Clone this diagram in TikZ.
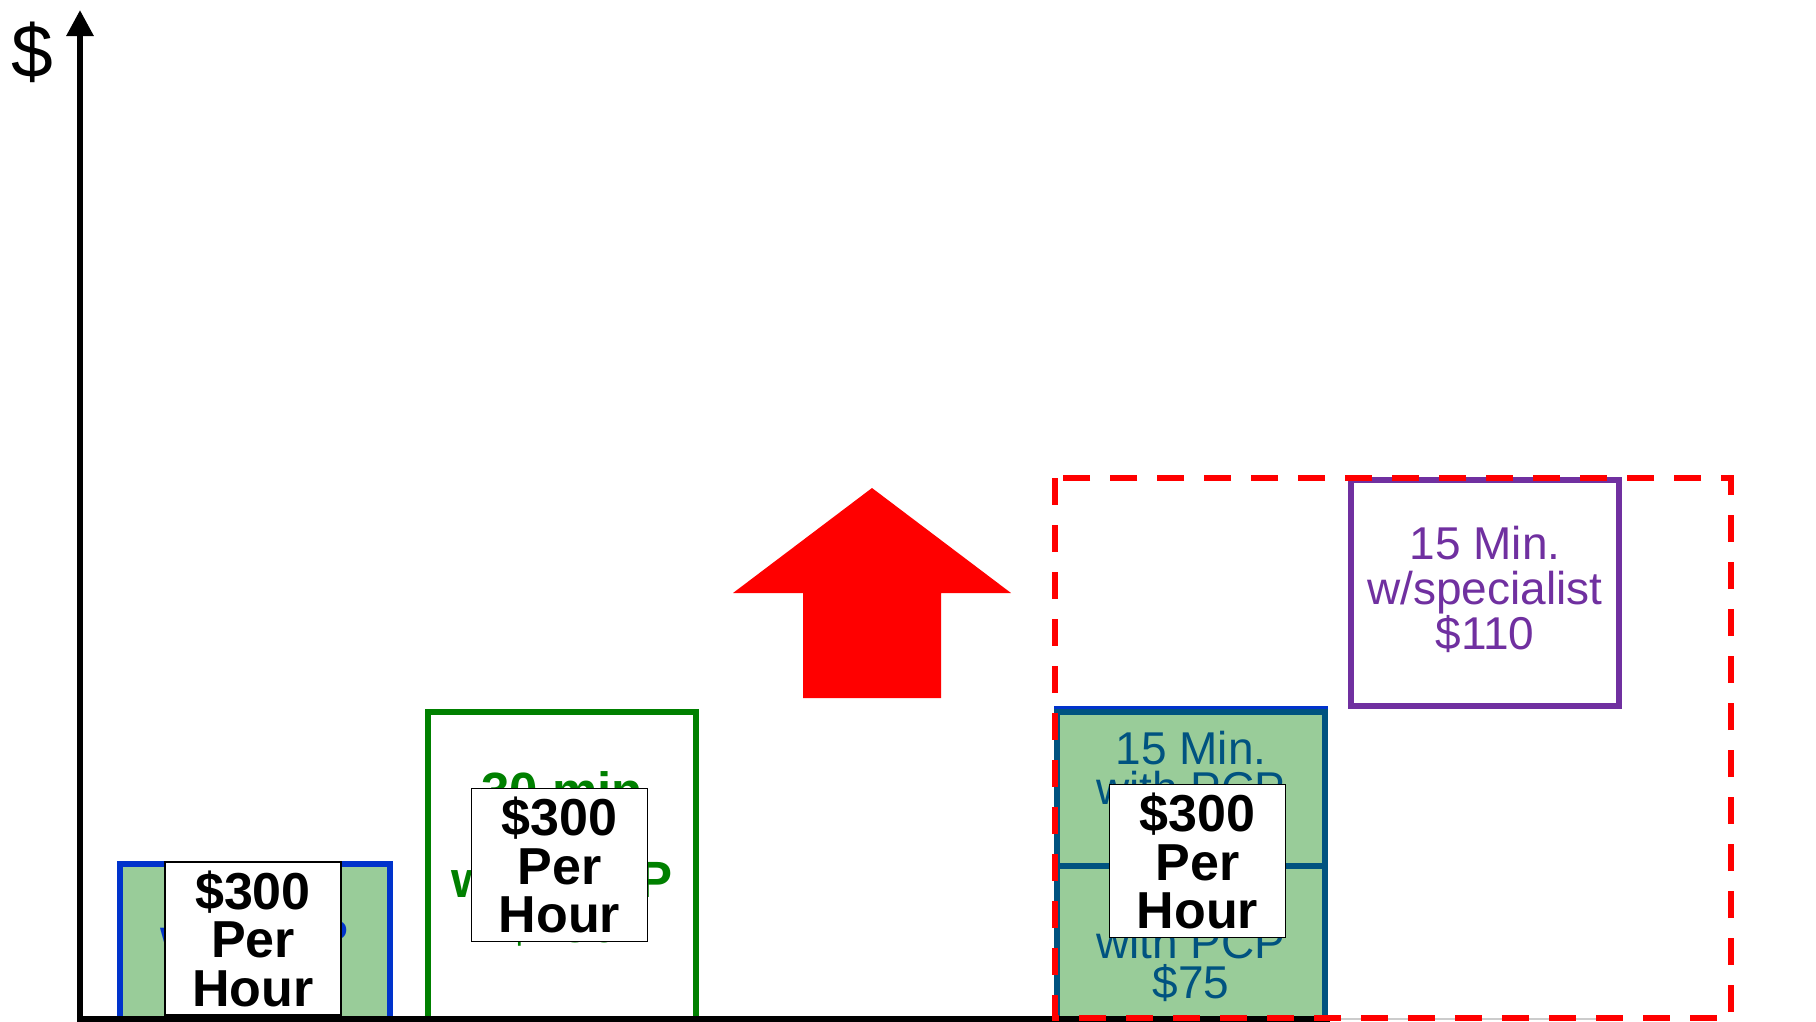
\documentclass[tikz,border=0pt]{standalone}
\usepackage{fontspec}
\setmainfont{Liberation Sans}
\usetikzlibrary{arrows.meta}
\definecolor{pcpfill}{RGB}{153,204,153}
\definecolor{pcpblue}{RGB}{0,51,204}
\definecolor{pcpgreen}{RGB}{0,128,0}
\definecolor{pcpteal}{RGB}{0,83,128}
\definecolor{specpurple}{RGB}{112,48,160}
\tikzset{>={Triangle[length=26pt,width=26pt]}}
\tikzset{
  axisline/.style={line width=6pt},
  visitbox/.style={line width=6pt},
  visittext/.style={align=center, inner sep=0pt, font=\fontsize{46}{40}\selectfont},
  ratebox/.style={draw, line width=1.5pt, fill=white, inner sep=0pt, align=center,
    minimum width=176pt, minimum height=153pt, font=\bfseries\fontsize{52}{48.5}\selectfont}
}

\begin{document}
\begin{tikzpicture}[x=1pt,y=-1pt]
        \useasboundingbox (0,0) rectangle (1816,1021);
        % 15 min visit
        \draw[visitbox, draw=pcpblue, fill=pcpfill] (120,864) rectangle (390,1019);
        \node[visittext, text=pcpblue] (visit-a) at (255,937) {15 Min.\\with PCP\\\$75};
        \node[ratebox] (rate-a) at (253,938.5) {\$300\\Per\\Hour};
        % 30 min visit
        \draw[visitbox, draw=pcpgreen] (428,712) rectangle (696,1019);
        \node[align=center, inner sep=0pt, text=pcpgreen, font=\bfseries\fontsize{51}{45}\selectfont]
            (visit-b) at (562,859) {30 min\\[44pt]with PCP\\\$150};
        \node[ratebox] (rate-b) at (559.5,865) {\$300\\Per\\Hour};
        % up arrow
        \fill[red] (872,488) -- (1011,593) -- (941,593) -- (941,698)
            -- (803,698) -- (803,593) -- (733,593) -- cycle;
        % specialist
        \draw[visitbox, draw=specpurple, fill=white] (1351,480) rectangle (1619,706);
        \node[visittext, text=specpurple, font=\fontsize{46}{45}\selectfont]
            (spec) at (1485,589) {15 Min.\\w/specialist\\\$110};
        % two 15 min visits
        \draw[visitbox, draw=pcpblue] (1057,709) rectangle (1325,1017);
        \foreach \top/\bot/\n in {712/866/c, 866/1019/d}
        {
            \draw[visitbox, draw=pcpteal, fill=pcpfill] (1057,\top) rectangle (1325,\bot);
            \node[visittext, text=pcpteal] (visit-\n) at (1191,{(\top+\bot)/2+0.5}) {15 Min.\\with PCP\\\$75};
        }
        \node[ratebox] (rate-c) at (1197.5,861) {\$300\\Per\\Hour};
        % axes
        \draw[gray!40, line width=2pt] (1330,1019) -- (1615,1019);
        \draw[axisline] (77,1019) -- (1330,1019);
        \draw[axisline,->] (80,1019) -- (80,10);
        \node (dollar) at (32,52) {\fontsize{75}{75}\selectfont\$};
        % spending range
        \draw[red, line width=6pt, dash pattern=on 27pt off 20pt] (1055,478) rectangle (1731,1018);
    \end{tikzpicture}
\end{document}
